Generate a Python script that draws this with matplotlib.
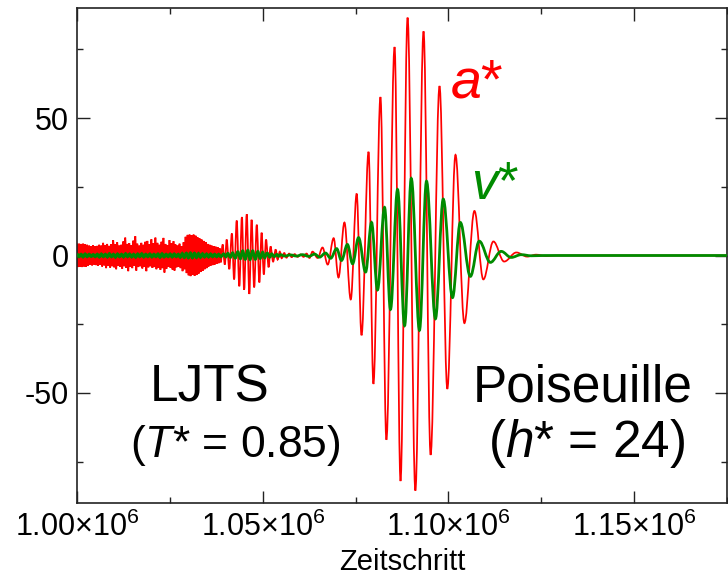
import numpy as np
import matplotlib
matplotlib.use("Agg")
import matplotlib.pyplot as plt
from matplotlib.path import Path
from matplotlib.patches import PathPatch
from matplotlib.ticker import MultipleLocator, FixedLocator, FixedFormatter

plt.rcParams["font.family"] = ["Liberation Sans", "DejaVu Sans"]
plt.rcParams["mathtext.fontset"] = "custom"
plt.rcParams["mathtext.rm"] = "Liberation Sans"
plt.rcParams["mathtext.it"] = "Liberation Sans:italic"
plt.rcParams["mathtext.bf"] = "Liberation Sans:bold"

KSTEP = 1000.0  # time values below are given in units of 1000 steps

# --- start-up noise (1.0000e6 .. 1.0387e6): alternating extremes -----------
noise_t0, noise_t1 = 1000.0, 1038.7
a_noise_hi = [4.4, 4.3, 4.2, 4.3, 4.1, 3.9,
              3.6, 3.4, 3.7, 3.3, 3.5, 3.9,
              3.6, 4.6, 3.8, 4.2, 3.5, 4.1,
              5.6, 4.0, 4.8, 3.6, 3.9, 5.1,
              6.5, 4.2, 4.5, 3.8, 5.4, 7.0,
              4.3, 3.6, 4.6, 3.9, 5.0, 5.3,
              4.1, 5.9, 4.4, 6.5, 4.6, 3.9,
              5.0, 6.4, 4.2, 3.8, 5.6, 4.4,
              5.2, 4.0, 3.6, 4.3, 3.4, 4.8,
              6.8, 7.5, 7.6, 7.3, 7.6, 7.2,
              6.6, 6.2, 5.8, 5.3, 4.9, 4.2,
              3.9, 3.6, 3.4, 3.2, 3.0, 2.6]
a_noise_lo = [-4.2, -4.1, -4.2, -4.0, -4.1, -3.8,
              -3.4, -3.6, -3.3, -3.5, -3.7, -3.4,
              -4.0, -3.6, -4.6, -3.8, -4.4, -3.9,
              -4.3, -5.0, -3.8, -4.1, -4.8, -3.9,
              -4.5, -5.7, -4.0, -4.6, -3.8, -5.5,
              -4.2, -3.9, -4.7, -4.1, -5.7, -4.3,
              -3.9, -4.5, -4.2, -5.0, -4.4, -5.2,
              -4.6, -6.2, -4.8, -4.0, -4.5, -5.1,
              -5.5, -4.3, -4.0, -4.6, -5.7, -5.0,
              -6.4, -7.2, -7.5, -7.0, -7.4, -7.1,
              -6.6, -6.0, -5.6, -5.0, -4.6, -4.0,
              -3.7, -3.5, -3.3, -3.0, -2.8, -2.5]
v_noise_hi = [0.6, 0.5, 0.6, 0.5, 0.4, 0.5, 0.6, 0.5, 0.7, 0.5, 0.6, 0.5,
              0.7, 0.6, 0.5, 0.6, 0.7, 0.5, 0.6, 0.5, 0.6, 0.7, 0.5, 0.6,
              0.6, 0.5, 0.8, 0.9, 1.0, 0.9, 0.8, 0.7, 0.6, 0.6, 0.5, 0.5]
v_noise_lo = [-0.5, -0.6, -0.5, -0.4, -0.5, -0.6, -0.5, -0.6, -0.5, -0.7,
              -0.5, -0.6, -0.5, -0.6, -0.7, -0.5, -0.6, -0.5, -0.6, -0.5,
              -0.7, -0.6, -0.5, -0.6, -0.5, -0.7, -0.8, -0.9, -0.9, -0.8,
              -0.7, -0.6, -0.6, -0.5, -0.5, -0.5]

# --- wave packets: turning points (time / 1000 steps, value) -----------------
a_turn_t = [1039.2, 1039.8, 1040.3, 1041.0, 1041.7, 1042.3, 1043.0, 1043.7,
            1044.4, 1045.0, 1045.7, 1046.4, 1047.0, 1047.7, 1048.4, 1049.1,
            1049.7, 1050.3, 1050.9, 1051.6, 1052.1, 1052.8, 1053.5, 1054.0,
            1054.6, 1055.1, 1055.8, 1056.4, 1057.1, 1057.8, 1058.6, 1059.4,
            1060.2, 1061.0, 1061.8, 1062.6, 1063.4, 1064.8, 1066.1, 1067.5,
            1069.1, 1070.4, 1072.0, 1073.7, 1075.3, 1076.6, 1078.5, 1079.8,
            1081.7, 1083.3, 1085.5, 1087.1, 1089.0, 1091.1, 1093.3, 1095.2,
            1097.6, 1099.7, 1101.9, 1104.3, 1107.0, 1109.4, 1112.1, 1115.0,
            1118.3, 1121.2, 1123.6, 1126.3, 1129.0, 1175.0]
a_turn_v = [4.0, -3.3, 5.8, -5.0, 8.0, -8.7, 12.7, -11.2,
            14.0, -12.5, 15.0, -14.0, 13.0, -11.6, 11.2, -9.8,
            8.3, -6.9, 5.8, -4.3, 3.3, -2.2, 2.2, -1.5,
            1.4, -1.0, 0.9, -0.8, 0.7, -0.6, 0.5, -0.5,
            0.4, -0.5, 0.7, -0.9, 1.4, -0.9, 2.9, -3.3,
            6.3, -8.0, 12.0, -16.0, 22.5, -29.0, 37.7, -46.7,
            57.6, -67.0, 75.8, -82.0, 86.5, -85.5, 81.5, -72.5,
            61.6, -48.5, 36.6, -24.6, 16.2, -8.7, 5.1, -2.2,
            1.1, -0.4, 0.3, -0.2, 0.0, 0.0]

v_turn_t = [1039.5, 1040.1, 1040.6, 1041.3, 1041.9, 1042.6, 1043.3, 1044.0,
            1044.6, 1045.3, 1046.0, 1046.6, 1047.3, 1048.0, 1048.7, 1049.3,
            1050.0, 1050.5, 1051.2, 1051.9, 1052.4, 1053.1, 1053.8, 1054.3,
            1054.8, 1055.9, 1057.5, 1059.1, 1060.7, 1062.4, 1064.0, 1065.3,
            1066.9, 1068.3, 1069.9, 1071.2, 1072.8, 1074.2, 1075.8, 1077.7,
            1079.3, 1080.9, 1082.8, 1084.4, 1086.3, 1088.2, 1090.0, 1092.2,
            1094.1, 1096.5, 1098.6, 1101.1, 1103.2, 1105.9, 1108.3, 1111.3,
            1114.2, 1116.9, 1119.6, 1122.3, 1125.8, 1175.0]
v_turn_v = [0.6, -0.5, 0.8, -0.7, 1.0, -1.0, 1.4, -1.2,
            1.7, -1.4, 1.9, -1.5, 1.7, -1.4, 1.5, -1.1,
            1.2, -0.9, 0.9, -0.6, 0.6, -0.4, 0.4, -0.3,
            0.3, -0.2, 0.2, -0.2, 0.3, -0.3, 0.5, -0.6,
            0.9, -1.0, 2.5, -1.8, 4.0, -3.0, 6.5, -6.0,
            12.0, -12.5, 17.5, -19.6, 24.0, -25.5, 28.0, -27.2,
            27.0, -23.0, 20.5, -15.3, 12.0, -7.6, 5.2, -2.5,
            1.5, -0.7, 0.3, -0.1, 0.0, 0.0]

x_ticks = [1.00e6, 1.05e6, 1.10e6, 1.15e6]
x_tick_labels = [r"1.00$\times$10$^{6}$", r"1.05$\times$10$^{6}$",
                 r"1.10$\times$10$^{6}$", r"1.15$\times$10$^{6}$"]
y_ticks = [-50, 0, 50]
y_tick_labels = ["-50", "0", "50"]


def series(t0, t1, hi, lo, turn_t, turn_v):
    vals = np.empty(2 * len(hi))
    vals[0::2] = hi
    vals[1::2] = lo
    t = np.linspace(t0, t1, len(vals))
    t_all = np.concatenate([t, turn_t]) * KSTEP
    v_all = np.concatenate([vals, turn_v])
    return t_all, v_all


def oscillation_path(t, v, k=0.36):
    """Cubic Bezier path through successive extrema, flat tangent at each."""
    verts = [(t[0], v[0])]
    codes = [Path.MOVETO]
    for i in range(len(t) - 1):
        dt = t[i + 1] - t[i]
        verts += [(t[i] + k * dt, v[i]), (t[i + 1] - k * dt, v[i + 1]),
                  (t[i + 1], v[i + 1])]
        codes += [Path.CURVE4] * 3
    return Path(verts, codes)


ta, va = series(noise_t0, noise_t1, a_noise_hi, a_noise_lo, a_turn_t, a_turn_v)
tv, vv = series(noise_t0, noise_t1, v_noise_hi, v_noise_lo, v_turn_t, v_turn_v)

fig = plt.figure(figsize=(7.28, 5.76), dpi=100)
ax = fig.add_axes([77 / 728, 1 - 503 / 576, 650 / 728, 495 / 576])

red = "#ff0000"
green = "#008b00"
ax.add_patch(PathPatch(oscillation_path(ta, va), fill=False, edgecolor=red,
                       lw=1.25, zorder=2))
ax.add_patch(PathPatch(oscillation_path(tv, vv), fill=False, edgecolor=green,
                       lw=2.0, zorder=3))

ax.set_xlim(1.0e6, 1.175e6)
ax.set_ylim(-90, 90)

ax.xaxis.set_major_locator(FixedLocator(x_ticks))
ax.xaxis.set_major_formatter(FixedFormatter(x_tick_labels))
ax.xaxis.set_minor_locator(MultipleLocator(25000))
ax.yaxis.set_major_locator(FixedLocator(y_ticks))
ax.yaxis.set_major_formatter(FixedFormatter(y_tick_labels))
ax.yaxis.set_minor_locator(MultipleLocator(25))

ax.tick_params(which="both", direction="in", top=True, right=True,
               colors="#222222", labelcolor="black")
ax.tick_params(which="major", length=9, width=1.0, labelsize=22, pad=6)
ax.tick_params(which="minor", length=4.5, width=1.0)
for s in ax.spines.values():
    s.set_linewidth(1.2)
    s.set_color("#222222")

ax.set_xlabel("Zeitschritt", fontsize=21, labelpad=4)

ax.text(1100.4e3, 57.5, r"$\mathit{a}$*", color=red, fontsize=40,
        ha="left", va="baseline")
ax.text(1106.0e3, 20.5, r"$\mathit{v}$*", color=green, fontsize=38,
        ha="left", va="baseline")
ax.text(1035.8e3, -53, "LJTS", fontsize=37, ha="center", va="baseline")
ax.text(1042.7e3, -73.3, r"($\mathit{T}$* = 0.85)", fontsize=32,
        ha="center", va="baseline")
ax.text(1136.2e3, -53, "Poiseuille", fontsize=37, ha="center",
        va="baseline")
ax.text(1137.2e3, -73.3, r"($\mathit{h}$* = 24)", fontsize=37,
        ha="center", va="baseline")

fig.savefig("out.png", dpi=100)
